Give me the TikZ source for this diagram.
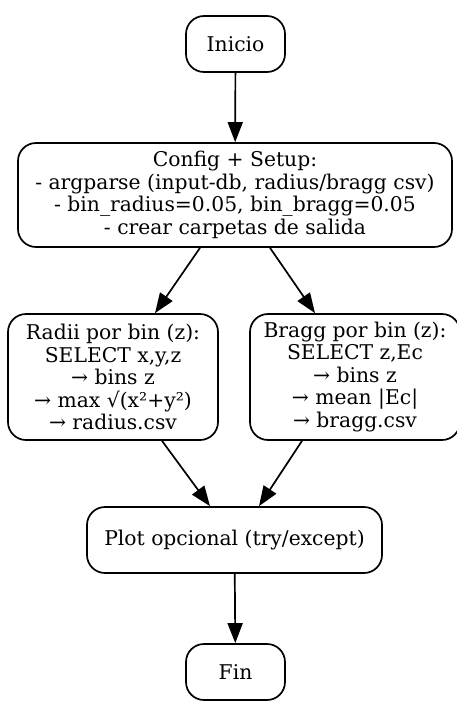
\documentclass[tikz,border=0pt]{standalone}
\usepackage{fontspec}
\setmainfont{DejaVu Serif}
\usetikzlibrary{arrows.meta}
\tikzset{
  box/.style={draw, line width=1.7pt, rounded corners=18pt, align=center,
    inner sep=0pt, font=\fontsize{20.3}{22.5}\selectfont},
  flow/.style={draw, line width=1.7pt, -{Triangle[length=20pt,width=15pt]}}
}
\begin{document}
\begin{tikzpicture}[x=1pt,y=1pt]
\useasboundingbox (0,0) rectangle (457,-704);
\node[box, minimum width=99pt, minimum height=56pt] (start) at (235.5,-44) {Inicio};
\node[box, minimum width=434pt, minimum height=104pt] (cfg) at (235,-195)
  {Config + Setup:\\- argparse (input-db, radius/bragg csv)\\- bin\_radius=0.05, bin\_bragg=0.05\\- crear carpetas de salida};
\node[box, minimum width=210pt, minimum height=126pt] (radii) at (113,-377)
  {Radii por bin (z):\\SELECT x,y,z\\→ bins z\\→ max √(x²+y²)\\→ radius.csv};
\node[box, minimum width=210pt, minimum height=126pt] (bragg) at (355,-377)
  {Bragg por bin (z):\\SELECT z,Ec\\→ bins z\\→ mean |Ec|\\→ bragg.csv};
\node[box, minimum width=295pt, minimum height=66pt] (plot) at (234.5,-540)
  {Plot opcional (try/except)};
\node[box, minimum width=99pt, minimum height=56pt] (fin) at (235.5,-672) {Fin};
\draw[flow] (start) -- (cfg);
\draw[flow] (cfg.south -| 200,0) -- (radii.north -| 155,0);
\draw[flow] (cfg.south -| 270,0) -- (bragg.north -| 315,0);
\draw[flow] (radii.south -| 162,0) -- (plot.north -| 210,0);
\draw[flow] (bragg.south -| 302,0) -- (plot.north -| 259,0);
\draw[flow] (plot) -- (fin);
\end{tikzpicture}
\end{document}
